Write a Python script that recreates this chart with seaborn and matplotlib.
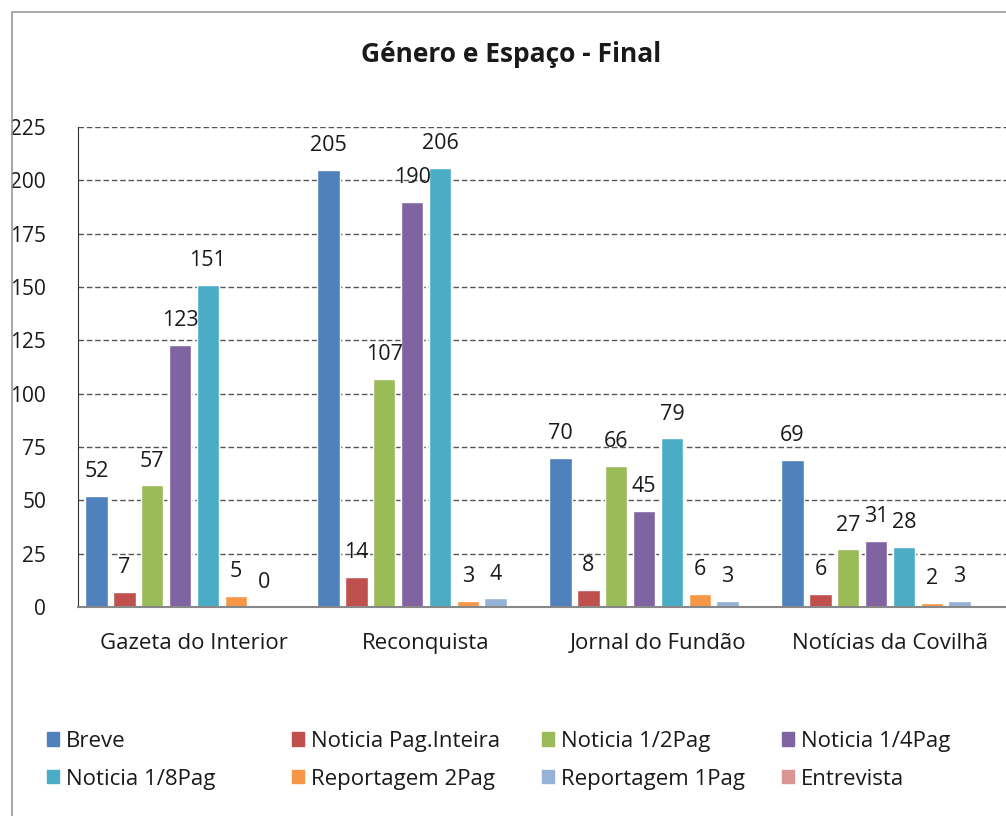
import numpy as np
import pandas as pd
import matplotlib
matplotlib.use("Agg")
import matplotlib.pyplot as plt
import matplotlib.patches as mpatches
import seaborn as sns

jornais = ["Gazeta do Interior", "Reconquista", "Jornal do Fundão", "Notícias da Covilhã"]
generos = ["Breve", "Noticia Pag.Inteira", "Noticia 1/2Pag", "Noticia 1/4Pag",
           "Noticia 1/8Pag", "Reportagem 2Pag", "Reportagem 1Pag", "Entrevista"]

breve = [52, 205, 70, 69]
noticia_inteira = [7, 14, 8, 6]
noticia_meia = [57, 107, 66, 27]
noticia_quarto = [123, 190, 45, 31]
noticia_oitavo = [151, 206, 79, 28]
reportagem_2 = [5, 3, 6, 2]
reportagem_1 = [0, 4, 3, 3]
entrevista = [np.nan, np.nan, np.nan, np.nan]

cores = ["#4F81BD", "#C0504D", "#9BBB59", "#8064A2",
         "#4BACC6", "#F79646", "#95B3D7", "#D99694"]

series = [breve, noticia_inteira, noticia_meia, noticia_quarto,
          noticia_oitavo, reportagem_2, reportagem_1, entrevista]
rows = []
for g, vals in zip(generos, series):
    for j, v in zip(jornais, vals):
        rows.append({"jornal": j, "genero": g, "valor": v})
df = pd.DataFrame(rows)

sns.set_style("white")
plt.rcParams["font.family"] = ["Open Sans", "DejaVu Sans"]
txt = "#1a1a1a"

fig = plt.figure(figsize=(10.06, 8.16), dpi=100)
ax = fig.add_axes([78 / 1006, 1 - 607 / 816, 1 - 78 / 1006, 480 / 816])

sns.barplot(data=df, x="jornal", y="valor", hue="genero", order=jornais,
            hue_order=generos, palette=cores, width=0.96, gap=0.2,
            legend=False, ax=ax, saturation=1, err_kws={"linewidth": 0})

# value labels (skip Entrevista, no data)
for cont, g in zip(ax.containers, generos):
    if g == "Entrevista":
        continue
    labels = [f"{v:.0f}" if not np.isnan(v) else "" for v in cont.datavalues]
    ax.bar_label(cont, labels=labels, padding=10, fontsize=15.5, color=txt)

ax.set_xlim(-0.5, 3.5)
ax.set_ylim(0, 225)
ax.set_yticks(range(0, 226, 25))
ax.yaxis.grid(True, linestyle=(0, (4, 2)), color="#555555", linewidth=1)
ax.set_axisbelow(True)
ax.set_xlabel("")
ax.set_ylabel("")
ax.tick_params(axis="y", labelsize=15, pad=23, length=0, labelcolor=txt)
ax.tick_params(axis="x", labelsize=16, pad=19, length=0, labelcolor=txt)

for s in ["top", "right"]:
    ax.spines[s].set_visible(False)
ax.spines["left"].set_linestyle((0, (2, 1)))
ax.spines["left"].set_color("#333333")
ax.spines["bottom"].set_color("#888888")
ax.spines["bottom"].set_linewidth(1.5)

fig.text(511 / 1006, 1 - 55 / 816, "Género e Espaço - Final",
         ha="center", va="center", fontsize=19, fontweight="bold", color=txt)

# outer chart border (cropped on the right)
fig.patches.append(mpatches.Rectangle((12 / 1006, -0.1), 1.2, 1 - 12 / 816 + 0.1,
                                      transform=fig.transFigure, fill=False,
                                      edgecolor="#999999", linewidth=1.2))

handles = [mpatches.Patch(color=c, label=g) for g, c in zip(generos, cores)]
col_x = [38, 283, 533, 773]
for j, x in enumerate(col_x):
    leg = fig.legend(handles=[handles[j], handles[j + 4]], loc="upper left",
                     bbox_to_anchor=(x / 1006, 1 - 722 / 816), frameon=False,
                     fontsize=16, handlelength=0.55, handleheight=0.55,
                     handletextpad=0.3, labelspacing=0.75, borderaxespad=0)
    for t in leg.get_texts():
        t.set_color(txt)

fig.savefig("out.png", dpi=100)
